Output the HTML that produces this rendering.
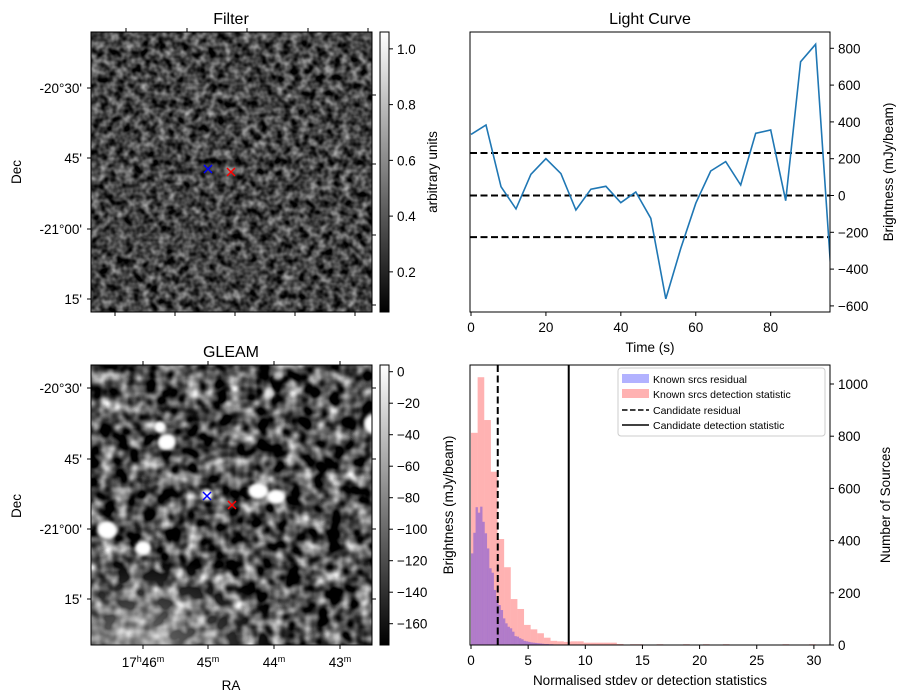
<!DOCTYPE html>
<html><head><meta charset="utf-8">
<style>
html,body{margin:0;padding:0;background:#fff;}
svg{display:block;font-family:"Liberation Sans","DejaVu Sans",sans-serif;}
text{fill:#000;}
</style></head>
<body>
<svg id="fig" width="907" height="699" viewBox="0 0 907 699" xmlns="http://www.w3.org/2000/svg">
<defs>
  <filter id="noiseF" x="0" y="0" width="100%" height="100%" color-interpolation-filters="sRGB">
    <feTurbulence type="fractalNoise" baseFrequency="0.12" numOctaves="2" seed="7"/>
    <feColorMatrix type="matrix" values="1.05 0 0 0 -0.26  1.05 0 0 0 -0.26  1.05 0 0 0 -0.26  0 0 0 0 1"/>
  </filter>
  <filter id="noiseG" x="0" y="0" width="100%" height="100%" color-interpolation-filters="sRGB">
    <feTurbulence type="fractalNoise" baseFrequency="0.07" numOctaves="2" seed="3"/>
    <feColorMatrix type="matrix" values="1.8 0 0 0 -0.6  1.8 0 0 0 -0.6  1.8 0 0 0 -0.6  0 0 0 0 1"/>
  </filter>
  <filter id="blur2"><feGaussianBlur stdDeviation="1.5"/></filter>
  <linearGradient id="cbGray" x1="0" y1="1" x2="0" y2="0"><stop offset="0" stop-color="#000"/><stop offset="1" stop-color="#fff"/></linearGradient>
  <radialGradient id="llBright" cx="0.25" cy="1" r="0.7"><stop offset="0" stop-color="#fff" stop-opacity="0.45"/><stop offset="1" stop-color="#fff" stop-opacity="0"/></radialGradient>
  <clipPath id="clipG"><rect x="91" y="365" width="281" height="280"/></clipPath>
  <clipPath id="clipLC"><rect x="470" y="32" width="360" height="280"/></clipPath>
</defs>

<g>
  <text x="231" y="24" font-size="16" text-anchor="middle">Filter</text>
  <rect x="91" y="32" width="281" height="280" fill="#444"/>
  <rect x="91" y="32" width="281" height="280" filter="url(#noiseF)"/>
  <rect x="91" y="32" width="281" height="280" fill="none" stroke="#000" stroke-width="1"/>
  <g stroke="#000" stroke-width="1">
    <line x1="126" y1="32" x2="126" y2="28"/><line x1="187" y1="32" x2="187" y2="28"/><line x1="247" y1="32" x2="247" y2="28"/><line x1="308" y1="32" x2="308" y2="28"/><line x1="368" y1="32" x2="368" y2="28"/>
    <line x1="115" y1="312" x2="115" y2="316"/><line x1="175" y1="312" x2="175" y2="316"/><line x1="235" y1="312" x2="235" y2="316"/><line x1="295" y1="312" x2="295" y2="316"/><line x1="355" y1="312" x2="355" y2="316"/>
    <line x1="87" y1="88" x2="91" y2="88"/><line x1="87" y1="158" x2="91" y2="158"/><line x1="87" y1="229" x2="91" y2="229"/><line x1="87" y1="299" x2="91" y2="299"/>
    <line x1="372" y1="95" x2="376" y2="95"/><line x1="372" y1="164" x2="376" y2="164"/><line x1="372" y1="235" x2="376" y2="235"/><line x1="372" y1="305" x2="376" y2="305"/>
  </g>
  <g font-size="13.5" text-anchor="end">
    <text x="82" y="93">-20°30'</text><text x="82" y="163">45'</text><text x="82" y="234">-21°00'</text><text x="82" y="304">15'</text>
  </g>
  <text transform="translate(21,172) rotate(-90)" font-size="13.5" text-anchor="middle">Dec</text>
  <path d="M204,165 l8,8 M212,165 l-8,8" stroke="#00f" stroke-width="1.5"/>
  <path d="M227,168 l8,8 M235,168 l-8,8" stroke="#f00" stroke-width="1.5"/>
  <rect x="380" y="32" width="9" height="280" fill="url(#cbGray)" stroke="#000" stroke-width="1"/>
  <g id="cbFticks"></g>
  <text transform="translate(437,172) rotate(-90)" font-size="13.5" text-anchor="middle">arbitrary units</text>
</g>

<g>
  <text x="231" y="357" font-size="16" text-anchor="middle">GLEAM</text>
  <rect x="91" y="365" width="281" height="280" fill="#555"/>
  <g clip-path="url(#clipG)">
    <rect x="91" y="365" width="281" height="280" filter="url(#noiseG)"/>
    <rect x="91" y="520" width="200" height="125" fill="url(#llBright)"/>
    <g fill="#fff" filter="url(#blur2)">
      <ellipse cx="160" cy="427" rx="6" ry="6"/><ellipse cx="167" cy="442" rx="9" ry="8"/>
      <ellipse cx="258" cy="491" rx="10" ry="8"/><ellipse cx="276" cy="497" rx="9" ry="7"/>
      <ellipse cx="107" cy="530" rx="10" ry="9"/><ellipse cx="143" cy="548" rx="8" ry="7"/>
      <ellipse cx="372" cy="424" rx="8" ry="9"/><ellipse cx="270" cy="394" rx="5" ry="4" opacity="0.7"/>
      <ellipse cx="278" cy="376" rx="5" ry="4" opacity="0.7"/><ellipse cx="207" cy="495" rx="6" ry="6"/>
    </g>
  </g>
  <rect x="91" y="365" width="281" height="280" fill="none" stroke="#000"/>
  <g stroke="#000">
    <line x1="143" y1="365" x2="143" y2="361"/><line x1="208" y1="365" x2="208" y2="361"/><line x1="274" y1="365" x2="274" y2="361"/><line x1="340" y1="365" x2="340" y2="361"/>
    <line x1="143" y1="645" x2="143" y2="649"/><line x1="208" y1="645" x2="208" y2="649"/><line x1="274" y1="645" x2="274" y2="649"/><line x1="340" y1="645" x2="340" y2="649"/>
    <line x1="87" y1="388" x2="91" y2="388"/><line x1="87" y1="459" x2="91" y2="459"/><line x1="87" y1="529" x2="91" y2="529"/><line x1="87" y1="599" x2="91" y2="599"/>
    <line x1="372" y1="388" x2="376" y2="388"/><line x1="372" y1="459" x2="376" y2="459"/><line x1="372" y1="529" x2="376" y2="529"/><line x1="372" y1="599" x2="376" y2="599"/>
  </g>
  <g font-size="13.5" text-anchor="end">
    <text x="82" y="393">-20°30'</text><text x="82" y="464">45'</text><text x="82" y="534">-21°00'</text><text x="82" y="604">15'</text>
  </g>
  <g font-size="13.5" text-anchor="middle">
    <text x="143" y="667">17<tspan font-size="9" dy="-5">h</tspan><tspan dy="5">46</tspan><tspan font-size="9" dy="-5">m</tspan></text>
    <text x="208" y="667">45<tspan font-size="9" dy="-5">m</tspan></text>
    <text x="274" y="667">44<tspan font-size="9" dy="-5">m</tspan></text>
    <text x="340" y="667">43<tspan font-size="9" dy="-5">m</tspan></text>
  </g>
  <text x="231" y="690" font-size="13.5" text-anchor="middle">RA</text>
  <text transform="translate(21,506) rotate(-90)" font-size="13.5" text-anchor="middle">Dec</text>
  <path d="M203,492 l8,8 M211,492 l-8,8" stroke="#00f" stroke-width="1.5"/>
  <path d="M228,501 l8,8 M236,501 l-8,8" stroke="#f00" stroke-width="1.5"/>
  <rect x="380" y="365" width="9" height="280" fill="url(#cbGray)" stroke="#000"/>
  <g id="cbGticks"></g>
</g>

<g>
  <text x="650" y="24" font-size="16" text-anchor="middle">Light Curve</text>
  <g id="lcMarks"></g>
  <rect x="470" y="32" width="360" height="280" fill="none" stroke="#000"/>
  <g id="lcAxes"></g>
  <text x="650" y="352" font-size="13.5" text-anchor="middle">Time (s)</text>
  <text transform="translate(893,172) rotate(-90)" font-size="13.5" text-anchor="middle">Brightness (mJy/beam)</text>
</g>

<g>
  <g id="hMarks"></g>
  <rect x="470" y="365" width="360" height="280" fill="none" stroke="#000"/>
  <g id="hAxes"></g>
  <text x="650" y="685" font-size="13.5" text-anchor="middle">Normalised stdev or detection statistics</text>
  <text transform="translate(453,505) rotate(-90)" font-size="13.5" text-anchor="middle">Brightness (mJy/beam)</text>
  <text transform="translate(890,505) rotate(-90)" font-size="13.5" text-anchor="middle">Number of Sources</text>
  <g>
    <rect x="618" y="368" width="207" height="68" rx="3" fill="#fff" fill-opacity="0.8" stroke="#ccc"/>
    <rect x="622" y="374" width="27" height="9" fill="#00f" fill-opacity="0.3"/>
    <text x="653" y="383" font-size="10.5">Known srcs residual</text>
    <rect x="622" y="389" width="27" height="9" fill="#f00" fill-opacity="0.3"/>
    <text x="653" y="398" font-size="10.5">Known srcs detection statistic</text>
    <line x1="622" y1="410" x2="649" y2="410" stroke="#000" stroke-width="1.5" stroke-dasharray="5.5,2.5"/>
    <text x="653" y="414" font-size="10.5">Candidate residual</text>
    <line x1="622" y1="425" x2="649" y2="425" stroke="#000" stroke-width="1.5"/>
    <text x="653" y="429" font-size="10.5">Candidate detection statistic</text>
  </g>
</g>
</svg>
<script>
const lcTimes = [0,4,8,12,16,20,24,28,32,36,40,44,48,52,56,60,64,68,72,76,80,84,88,92,96];
const lcValues = [332,383,48,-73,115,200,119,-79,34,50,-39,19,-124,-562,-287,-42,133,184,57,338,356,-28,727,822,-387];
const lcThresholds = [231,0,-226];
const lcXTicks = [0,20,40,60,80];
const lcYTicks = [-600,-400,-200,0,200,400,600,800];
const histDetectionCounts = [813,1026,862,664,406,298,176,138,77,60,45,28,16,14,12,14,14,9,9,9,9,9,4,0,3,3,0,0,3,0,0,0,3,0,0,3,0,0,3,0,0,0,0,0,0,0,0,3,0,0,0,3];
const histDetectionBinWidth = 0.58;
const histResidualCounts = [351,430,528,507,530,472,428,370,294,277,211,172,153,134,102,83,70,64,51,34,32,26,22,16,14,12,10,9,8,7,6,5,4,4,3,3,2,2,2,1,1];
const histResidualBinWidth = 0.2;
const candidateResidual = 2.34;
const candidateDetection = 8.55;
const histXTicks = [0,5,10,15,20,25,30];
const histYTicks = [0,200,400,600,800,1000];
const cbFilterTicks = [0.2,0.4,0.6,0.8,1.0];
const cbGleamTicks = [0,-20,-40,-60,-80,-100,-120,-140,-160];

const NS='http://www.w3.org/2000/svg';
function mk(tag, attrs, parent){const e=document.createElementNS(NS,tag);for(const k in attrs)e.setAttribute(k,attrs[k]);parent.appendChild(e);return e;}

const lcX = t => 471 + t*3.746;
const lcY = v => 195.5 - v*0.184;
const lcM = document.getElementById('lcMarks');
lcThresholds.forEach((v,i)=>{
  const l=mk('line',{x1:470,x2:830,y1:lcY(v),y2:lcY(v),stroke:'#000','stroke-width':2,'stroke-dasharray':'7,3.5'},lcM);
  
  
});
const pts = lcTimes.map((t,i)=>lcX(t).toFixed(1)+','+lcY(lcValues[i]).toFixed(1)).join(' ');
const pl = mk('polyline',{points:pts,fill:'none',stroke:'#1f77b4','stroke-width':1.6,'clip-path':'url(#clipLC)'},lcM);


const lcA = document.getElementById('lcAxes');
lcXTicks.forEach(t=>{
  const g=mk('g',{},lcA);
  
  
  mk('line',{x1:lcX(t),x2:lcX(t),y1:312,y2:316,stroke:'#000'},g);
  const tx=mk('text',{x:lcX(t),y:332,'font-size':13.5,'text-anchor':'middle'},g); tx.textContent=t;
});
lcYTicks.forEach(v=>{
  const g=mk('g',{},lcA);
  
  
  mk('line',{x1:830,x2:834,y1:lcY(v),y2:lcY(v),stroke:'#000'},g);
  const tx=mk('text',{x:838,y:lcY(v)+5,'font-size':13.5},g); tx.textContent=(v<0?'\u2212'+(-v):v);
});

const hX = v => 471 + v*11.43;
const hY = c => 645 - c*0.261;
const hM = document.getElementById('hMarks');
histDetectionCounts.forEach((c,i)=>{
  if(!c) return;
  const x0=hX(i*histDetectionBinWidth), x1=hX((i+1)*histDetectionBinWidth);
  const r=mk('rect',{x:x0,y:hY(c),width:x1-x0,height:645-hY(c),fill:'#f00','fill-opacity':0.3},hM);
  
  
});
histResidualCounts.forEach((c,i)=>{
  const x0=hX(i*histResidualBinWidth), x1=hX((i+1)*histResidualBinWidth);
  const r=mk('rect',{x:x0,y:hY(c),width:x1-x0+0.05,height:645-hY(c),fill:'#00f','fill-opacity':0.3},hM);
  
  
});
const cr=mk('line',{x1:hX(candidateResidual),x2:hX(candidateResidual),y1:365,y2:645,stroke:'#000','stroke-width':2,'stroke-dasharray':'7,3.5'},hM);


const cd=mk('line',{x1:hX(candidateDetection),x2:hX(candidateDetection),y1:365,y2:645,stroke:'#000','stroke-width':2},hM);


const hA=document.getElementById('hAxes');
histXTicks.forEach(t=>{
  const g=mk('g',{},hA);
  
  
  mk('line',{x1:hX(t),x2:hX(t),y1:645,y2:649,stroke:'#000'},g);
  const tx=mk('text',{x:hX(t),y:665,'font-size':13.5,'text-anchor':'middle'},g); tx.textContent=t;
});
histYTicks.forEach(v=>{
  const g=mk('g',{},hA);
  
  
  mk('line',{x1:830,x2:834,y1:hY(v),y2:hY(v),stroke:'#000'},g);
  const tx=mk('text',{x:838,y:hY(v)+5,'font-size':13.5},g); tx.textContent=v;
});

const cfY = v => 312 - (v-0.056)*278.75;
const cF=document.getElementById('cbFticks');
cbFilterTicks.forEach(v=>{
  const g=mk('g',{},cF);
  
  
  mk('line',{x1:389,x2:393,y1:cfY(v),y2:cfY(v),stroke:'#000'},g);
  const tx=mk('text',{x:397,y:cfY(v)+5,'font-size':13.5},g); tx.textContent=v.toFixed(1);
});
const cgY = v => 371.7 - v*1.575;
const cG=document.getElementById('cbGticks');
cbGleamTicks.forEach(v=>{
  const g=mk('g',{},cG);
  
  
  mk('line',{x1:389,x2:393,y1:cgY(v),y2:cgY(v),stroke:'#000'},g);
  const tx=mk('text',{x:397,y:cgY(v)+5,'font-size':13.5},g); tx.textContent=(v<0?'\u2212'+(-v):v);
});
</script>
</body></html>
